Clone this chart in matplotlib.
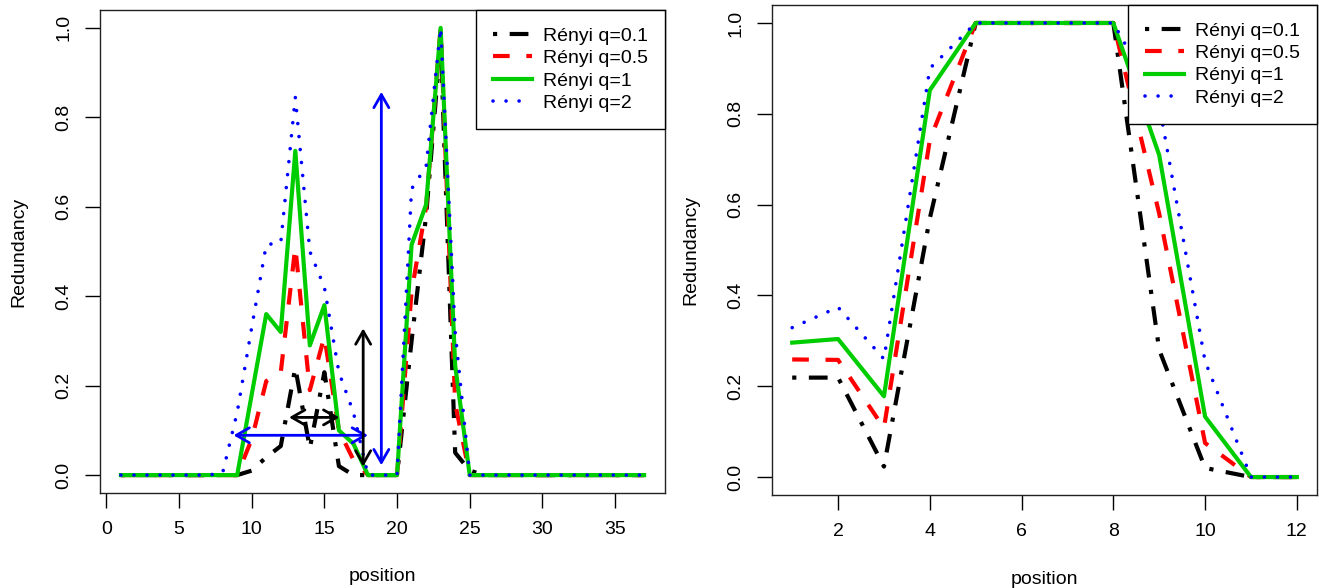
import numpy as np
import matplotlib.pyplot as plt
from matplotlib.ticker import FormatStrFormatter

plt.rcParams['font.family'] = ['Liberation Sans', 'DejaVu Sans']
plt.rcParams['font.size'] = 14

# ---- data ----
labels = ['Rényi q=0.1', 'Rényi q=0.5', 'Rényi q=1', 'Rényi q=2']

pos_left = list(range(1, 38))
black_left = [0, 0, 0, 0, 0, 0, 0, 0, 0, 0.01, 0.04, 0.065, 0.24, 0.06, 0.23, 0.02, 0,
              0, 0, 0, 0.30, 0.58, 0.97, 0.05, 0.01] + [0] * 12
red_left = [0, 0, 0, 0, 0, 0, 0, 0, 0, 0.08, 0.21, 0.23, 0.51, 0.19, 0.31, 0.10, 0.034,
            0, 0, 0, 0.41, 0.60, 1.0, 0.16, 0] + [0] * 12
green_left = [0, 0, 0, 0, 0, 0, 0, 0, 0, 0.18, 0.36, 0.32, 0.725, 0.29, 0.38, 0.10, 0.07,
              0, 0, 0, 0.515, 0.605, 1.0, 0.245, 0] + [0] * 12
blue_left = [0, 0, 0, 0, 0, 0, 0, 0.005, 0.14, 0.33, 0.515, 0.52, 0.845, 0.50, 0.42, 0.23, 0.14,
             0, 0, 0, 0.64, 0.69, 1.0, 0.32, 0] + [0] * 12

pos_right = list(range(1, 13))
black_right = [0.219, 0.219, 0.023, 0.57, 1.0, 1.0, 1.0, 1.0, 0.28, 0.02, 0, 0]
red_right = [0.259, 0.258, 0.108, 0.742, 1.0, 1.0, 1.0, 1.0, 0.58, 0.075, 0, 0]
green_right = [0.296, 0.304, 0.178, 0.852, 1.0, 1.0, 1.0, 1.0, 0.709, 0.133, 0, 0]
blue_right = [0.329, 0.374, 0.26, 0.90, 1.0, 1.0, 1.0, 1.0, 0.82, 0.255, 0, 0]

# double arrows on the left panel: (x0, y0, x1, y1, colour)
arrows_left = [
    (8.75, 0.089, 18.0, 0.089, 'blue'),
    (18.92, 0.022, 18.92, 0.857, 'blue'),
    (12.57, 0.129, 16.03, 0.129, 'black'),
    (17.67, 0.019, 17.67, 0.328, 'black'),
]

colors = ['black', '#FF0000', '#00CD00', '#0000FF']
dash_list = [(1, 3, 4.5, 3), (4, 4), None, (0.01, 3.6)]
widths = [3, 3, 3, 2.6]

fig = plt.figure(figsize=(13.19, 5.88), dpi=100)
ax1 = fig.add_axes([0.0758, 0.1616, 0.4284, 0.8214])
ax2 = fig.add_axes([0.5853, 0.1578, 0.4132, 0.834])


def draw(ax, x, series, xlim, xticks):
    for y, c, d, w, lab in zip(series, colors, dash_list, widths, labels):
        if d is None:
            ax.plot(x, y, color=c, lw=w, ls='-', label=lab)
        elif lab.endswith('2'):
            ax.plot(x, y, color=c, lw=w, dashes=d, dash_capstyle='round', label=lab)
        else:
            ax.plot(x, y, color=c, lw=w, dashes=d, label=lab)
    ax.set_xlim(*xlim)
    ax.set_ylim(-0.04, 1.04)
    ax.set_xticks(xticks)
    ax.set_yticks([0, 0.2, 0.4, 0.6, 0.8, 1.0])
    ax.yaxis.set_major_formatter(FormatStrFormatter('%.1f'))
    ax.tick_params(length=11, width=1, pad=9, direction='out')
    ax.tick_params(axis='y', labelrotation=90)
    for t in ax.get_yticklabels():
        t.set_va('center')
    for s in ax.spines.values():
        s.set_linewidth(1)
        s.set_color('#222222')
    ax.set_xlabel('position', labelpad=22)
    ax.set_ylabel('Redundancy', labelpad=20)
    leg = ax.legend(loc='upper right', borderaxespad=0, fancybox=False, edgecolor='black',
                    framealpha=1, handlelength=2.0, handletextpad=0.55, borderpad=0.88,
                    labelspacing=0.25, fontsize=14)
    leg.get_frame().set_linewidth(1)


draw(ax1, pos_left, [black_left, red_left, green_left, blue_left], (-0.44, 38.44),
     [0, 5, 10, 15, 20, 25, 30, 35])
draw(ax2, pos_right, [black_right, red_right, green_right, blue_right], (0.56, 12.44),
     [2, 4, 6, 8, 10, 12])

for x0, y0, x1, y1, c in arrows_left:
    ax1.annotate('', xy=(x0, y0), xytext=(x1, y1),
                 arrowprops=dict(arrowstyle='<->,head_length=0.47,head_width=0.27',
                                 color=c, lw=2, shrinkA=0, shrinkB=0, mutation_scale=20))

fig.savefig('out.png', dpi=100)
